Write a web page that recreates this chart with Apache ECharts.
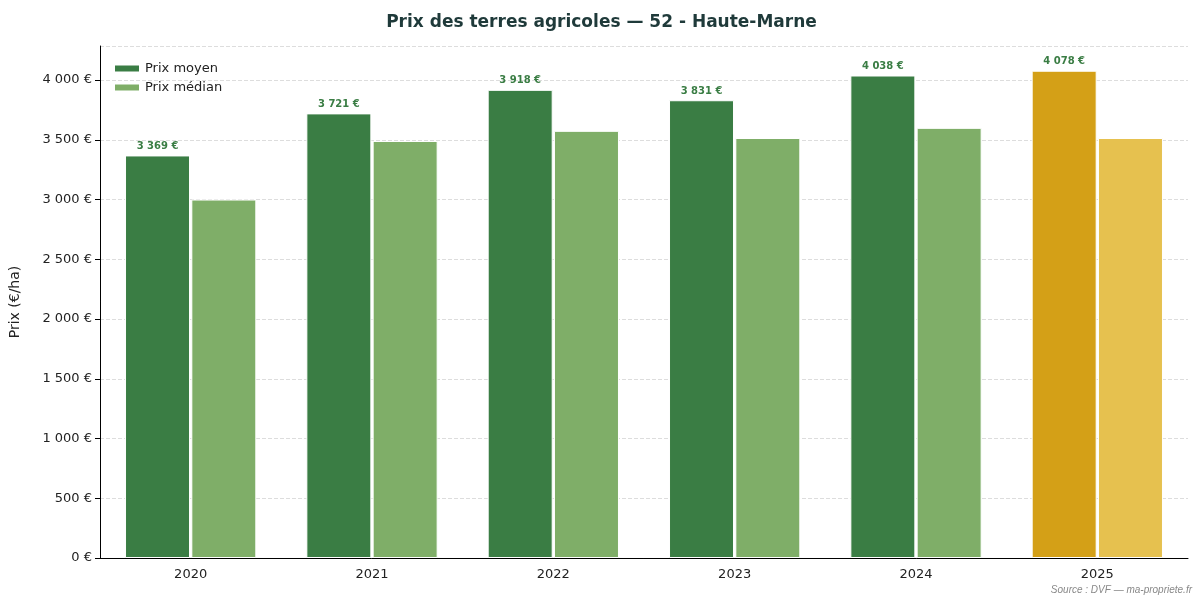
<!DOCTYPE html>
<html>
<head>
<meta charset="utf-8">
<script src="https://cdn.jsdelivr.net/npm/echarts@6/dist/echarts.min.js"></script>
<style>html,body{margin:0;padding:0;background:#fff}#c{width:1203px;height:606px}</style>
</head>
<body>
<div id="c"></div>
<script>
const years = ['2020', '2021', '2022', '2023', '2024', '2025'];
const prixMoyen = [3369, 3721, 3918, 3831, 4038, 4078];
const prixMedian = [3000, 3490, 3575, 3515, 3600, 3515];

const fmt = v => String(v).replace(/\B(?=(\d{3})+(?!\d))/g, ' ') + ' €';
const last = years.length - 1;

const chart = echarts.init(document.getElementById('c'));
chart.setOption({
  animation: false,
  textStyle: { fontFamily: 'DejaVu Sans' },
  title: {
    text: 'Prix des terres agricoles — 52 - Haute-Marne',
    left: 'center', top: 9,
    textStyle: { fontSize: 17, fontWeight: 'bold', color: '#1f3a3a' }
  },
  legend: {
    left: 108, top: 57, orient: 'vertical', itemGap: 6,
    itemWidth: 26, itemHeight: 8, icon: 'rect',
    textStyle: { fontSize: 13, color: '#222' },
    data: ['Prix moyen', 'Prix médian']
  },
  grid: { left: 95, right: 15, top: 46, bottom: 48 },
  xAxis: {
    type: 'category', data: years,
    axisLine: { lineStyle: { color: '#000' } },
    axisTick: { alignWithLabel: true, lineStyle: { color: '#000' } },
    axisLabel: { fontSize: 13, color: '#222', margin: 10 }
  },
  yAxis: {
    type: 'value', min: 0, max: 4285, interval: 500,
    name: 'Prix (€/ha)', nameLocation: 'middle', nameGap: 78,
    nameTextStyle: { fontSize: 14, color: '#222' },
    axisLine: { show: true, lineStyle: { color: '#000' } },
    axisTick: { show: true, lineStyle: { color: '#000' } },
    axisLabel: { fontSize: 13, color: '#222', formatter: fmt, showMaxLabel: false },
    splitLine: { lineStyle: { type: 'dashed', color: '#ddd' } }
  },
  series: [
    {
      name: 'Prix moyen', type: 'bar', barWidth: 65, barGap: '2%',
      itemStyle: { color: '#3a7d44', borderColor: '#fff', borderWidth: 1 },
      label: {
        show: true, position: 'top', distance: 4, formatter: p => fmt(p.value),
        fontSize: 10, fontWeight: 'bold', color: '#3a7d44'
      },
      data: prixMoyen.map((v, i) => i === last
        ? { value: v, itemStyle: { color: '#d4a017' }, label: { color: '#3a7d44' } } : v)
    },
    {
      name: 'Prix médian', type: 'bar', barWidth: 65,
      itemStyle: { color: '#7fae68', borderColor: '#fff', borderWidth: 1 },
      data: prixMedian.map((v, i) => i === last
        ? { value: v, itemStyle: { color: '#e6c14f' } } : v)
    }
  ],
  graphic: [{
    type: 'text', right: 11, bottom: 11,
    style: { text: 'Source : DVF — ma-propriete.fr', fontSize: 10, fontStyle: 'italic', fill: '#888' }
  }]
});
</script>
</body>
</html>
